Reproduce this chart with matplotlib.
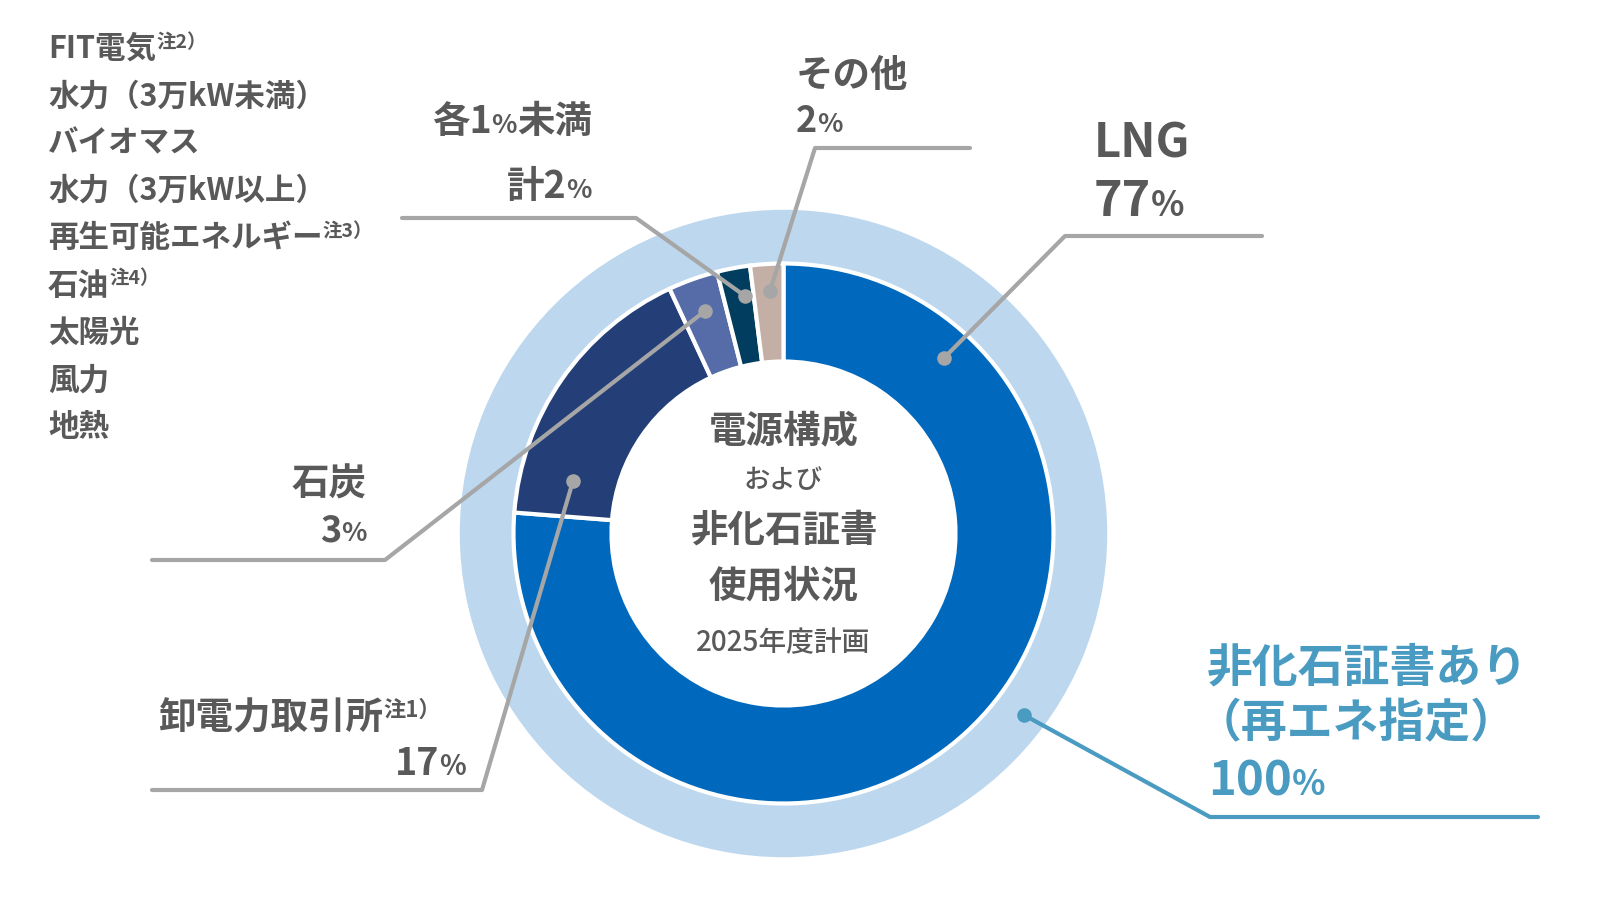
import matplotlib
matplotlib.use("Agg")
import matplotlib.pyplot as plt

plt.rcParams['font.family'] = ['Noto Sans CJK JP', 'DejaVu Sans']

# chart data
outer_labels = ["非化石証書あり（再エネ指定）"]
outer_values = [100]
inner_labels = ["LNG", "卸電力取引所", "石炭", "各1%未満", "その他"]
inner_values = [77, 17, 3, 2, 2]
inner_colors = ["#0069be", "#243f78", "#566ca8", "#003d5e", "#c3afa5"]
minor_sources = ["FIT電気", "水力（3万kW未満）", "バイオマス", "水力（3万kW以上）",
                 "再生可能エネルギー", "石油", "太陽光", "風力", "地熱"]
minor_notes = ["注2）", "", "", "", "注3）", "注4）", "", "", ""]

GRAY = "#595959"
LINE = "#a6a6a6"
TEAL = "#4a9bc1"

fig = plt.figure(figsize=(16.02, 9.02), dpi=100)
ax = fig.add_axes([0, 0, 1, 1])

cx, cy = 783.5, 533.5
# y axis is inverted below, so startangle=270 / counterclock=True reads clockwise from the top
ax.pie(outer_values, radius=326.5, center=(cx, cy), colors=["#bdd7ee"],
       startangle=270, counterclock=True,
       wedgeprops=dict(width=60, edgecolor="white", linewidth=4))
ax.pie(inner_values, radius=270, center=(cx, cy), colors=inner_colors,
       startangle=270, counterclock=True,
       wedgeprops=dict(width=98, edgecolor="white", linewidth=3))

ax.set_xlim(0, 1602)
ax.set_ylim(902, 0)
ax.set_aspect("equal")
ax.axis("off")


def runs(x, y, parts, ha="left", color=GRAY, weight="bold"):
    # draw text pieces on one baseline; a third item in a part raises it (superscript)
    parts = [p if len(p) == 3 else (p[0], p[1], 0) for p in parts]
    if ha == "left":
        s, fs, dy = parts[0]
        prev = ax.text(x, y - dy, s, fontsize=fs, color=color,
                       weight=weight, ha="left", va="baseline")
        for s, fs, dy in parts[1:]:
            prev = ax.annotate(s, xy=(1, y - dy), xycoords=(prev, "data"), fontsize=fs,
                               color=color, weight=weight, ha="left", va="baseline")
    else:
        s, fs, dy = parts[-1]
        prev = ax.text(x, y - dy, s, fontsize=fs, color=color,
                       weight=weight, ha="right", va="baseline")
        for s, fs, dy in parts[-2::-1]:
            prev = ax.annotate(s, xy=(0, y - dy), xycoords=(prev, "data"), fontsize=fs,
                               color=color, weight=weight, ha="right", va="baseline")


def leader(xs, ys, color=LINE):
    ax.plot(xs, ys, color=color, lw=3, solid_capstyle="round", solid_joinstyle="round", zorder=5)
    ax.scatter([xs[0]], [ys[0]], s=110, color=color, zorder=6, linewidths=0)


# left list of minor sources
for i, (src, note) in enumerate(zip(minor_sources, minor_notes)):
    yb = 58 + i * 47.3
    if note:
        runs(48, yb, [(src, 22), (note, 14, 10)])
    else:
        runs(48, yb, [(src, 22)])

# leader lines
leader([944, 1065, 1262], [358, 236, 236])
leader([770, 815, 970], [291, 148, 148])
leader([745, 636, 402], [296, 218, 218])
leader([705, 385, 152], [311, 560, 560])
leader([573, 482, 152], [481, 790, 790])
leader([1024, 1210, 1538], [715, 817, 817], color=TEAL)

# labels
runs(1094, 158, [("LNG", 34)])
runs(1094, 216, [("77", 35), ("%", 25)])
runs(796, 87, [("その他", 27)])
runs(796, 132, [("2", 26), ("%", 19)])
runs(592, 133, [("各1", 27), ("%", 19), ("未満", 27)], ha="right")
runs(592, 198, [("計2", 27), ("%", 19)], ha="right")
runs(367, 496, [("石炭", 27)], ha="right")
runs(367, 541, [("3", 26), ("%", 19)], ha="right")
runs(158, 729, [("卸電力取引所", 27), ("注1）", 16, 12)])
runs(466, 775, [("17", 27), ("%", 20)], ha="right")

runs(1207, 681, [("非化石証書あり", 33)], color=TEAL)
runs(1196, 737, [("（再エネ指定）", 33)], color=TEAL)
runs(1208, 795, [("100", 34), ("%", 25)], color=TEAL)

# centre title
ax.text(cx, 431, "電源構成", fontsize=27, color=GRAY, weight="bold", ha="center", va="center")
ax.text(cx, 481, "および", fontsize=19, color=GRAY, weight="medium", ha="center", va="center")
ax.text(cx, 530, "非化石証書", fontsize=27, color=GRAY, weight="bold", ha="center", va="center")
ax.text(cx, 586, "使用状況", fontsize=27, color=GRAY, weight="bold", ha="center", va="center")
ax.text(cx, 643, "2025年度計画", fontsize=20, color=GRAY, weight="medium", ha="center", va="center")

fig.savefig("out.png", dpi=100, facecolor="white")
